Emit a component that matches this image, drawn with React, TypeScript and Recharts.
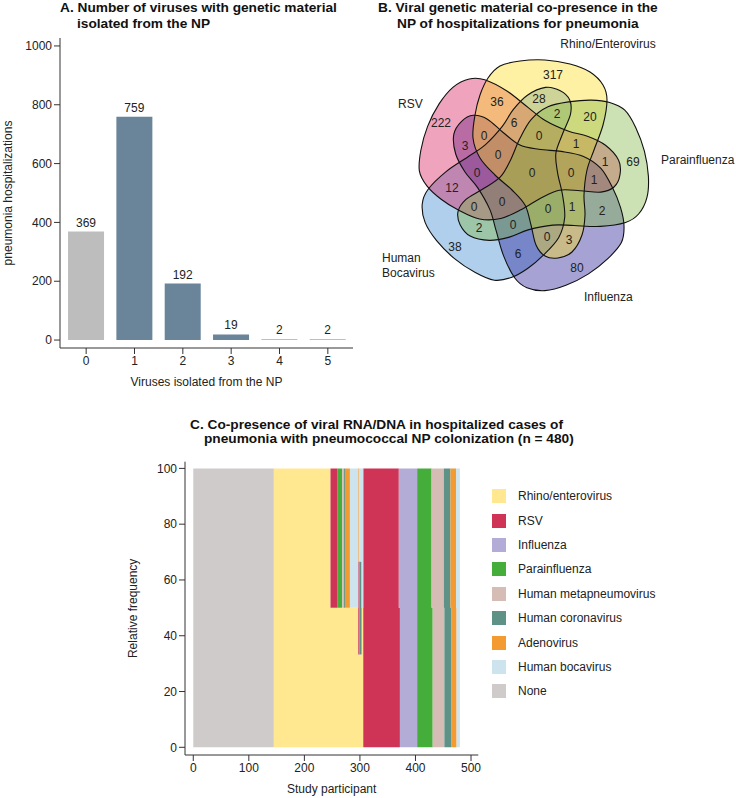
import React from "react";
import {
  BarChart,
  Bar,
  Cell,
  XAxis,
  YAxis,
  LabelList,
  Label,
  ScatterChart,
  Scatter,
  AreaChart,
  Area,
  Legend,
} from "recharts";

const FONT = '"Liberation Sans", Arial, Helvetica, sans-serif';
const INK = "#222";
const AXIS = "#333";

// ---- Panel A data
const VIRUS_COUNT = ["0", "1", "2", "3", "4", "5"];
const HOSPITALIZATIONS = [369, 759, 192, 19, 2, 2];

// ---- Panel B data (5-set venn), listed in drawing order
const VENN_SETS = ["Human Bocavirus", "Influenza", "RSV", "Rhino/Enterovirus", "Parainfluenza"];
const VENN_COLORS = ["#3787CF", "#201993", "#D7195A", "#FCDC19", "#82B643"];
// rotation of each set's outline around the centre (deg, clockwise)
const VENN_ROT = [216, 144, -72, 0, 72];
const VENN_COUNTS = [
  317, 36, 28, 2, 20, 222, 6, 0, 0, 1, 3, 0, 1, 69, 0, 0, 0, 1, 12, 0, 0, 0, 1, 2, 2, 0, 0, 3, 38, 6, 80,
];
// where each region count sits, relative to the venn centre (px)
const VENN_COUNT_POS = [
  [21, -99], [-35, -72], [7, -75], [25, -60], [58, -57], [-91, -51], [-18, -51], [-48, -38], [7, -38],
  [44, -30], [-67, -28], [-34, -19], [73, -12], [101, -12], [-55, -1], [0, -1], [39, -1], [62, 6],
  [-80, 14], [-58, 33], [-30, 28], [16, 35], [40, 33], [70, 37], [-53, 54], [-19, 51], [15, 63],
  [37, 66], [-77, 73], [-14, 80], [45, 94],
];
const VENN_NAME_POS = [
  [-150, 88, "start"],
  [52, 127, "start"],
  [-134, -66, "start"],
  [76, -126, "middle"],
  [129, -10, "start"],
];

// ---- Panel C data
const VIRUSES = [
  "Rhino/enterovirus",
  "RSV",
  "Influenza",
  "Parainfluenza",
  "Human metapneumovirus",
  "Human coronavirus",
  "Adenovirus",
  "Human bocavirus",
  "None",
];
const VIRUS_COLORS = [
  "#FFE890", "#CF3457", "#B3ACD6", "#45AE3A", "#D5BDB5", "#5E9287", "#F39A30", "#CDE4EE", "#CFCBCB",
];
const PARTICIPANT = [0, 145, 247, 259, 268, 271, 273, 282, 297, 299, 303, 306, 370, 372, 403, 429, 431, 451, 452, 463, 465, 473, 474, 480];
const RHINO = [0, 100, 50, 50, 50, 50, 50, 50, 33.3, 33.3, 50, 0, 0, 0, 0, 0, 0, 0, 0, 0, 0, 0, 0, 0];
const RSV = [0, 0, 50, 0, 0, 0, 0, 0, 33.3, 0, 0, 100, 50, 0, 0, 0, 0, 0, 0, 0, 0, 0, 0, 0];
const INFLUENZA = [0, 0, 0, 0, 0, 0, 0, 0, 0, 0, 0, 0, 50, 100, 0, 0, 0, 0, 0, 0, 0, 0, 0, 0];
const PARAINFLUENZA = [0, 0, 0, 50, 0, 0, 0, 0, 0, 0, 0, 0, 0, 0, 100, 50, 0, 0, 0, 0, 0, 0, 0, 0];
const METAPNEUMO = [0, 0, 0, 0, 50, 0, 0, 0, 0, 0, 0, 0, 0, 0, 0, 50, 100, 50, 0, 0, 0, 0, 0, 0];
const CORONA = [0, 0, 0, 0, 0, 50, 0, 0, 0, 33.3, 0, 0, 0, 0, 0, 0, 0, 50, 100, 50, 0, 0, 0, 0];
const ADENO = [0, 0, 0, 0, 0, 0, 50, 0, 33.4, 0, 0, 0, 0, 0, 0, 0, 0, 0, 0, 50, 100, 50, 0, 0];
const BOCA = [0, 0, 0, 0, 0, 0, 0, 50, 0, 33.4, 50, 0, 0, 0, 0, 0, 0, 0, 0, 0, 0, 50, 100, 100];
const NONE = [100, 0, 0, 0, 0, 0, 0, 0, 0, 0, 0, 0, 0, 0, 0, 0, 0, 0, 0, 0, 0, 0, 0, 0];
const SHARES = [RHINO, RSV, INFLUENZA, PARAINFLUENZA, METAPNEUMO, CORONA, ADENO, BOCA, NONE];

const barData = VIRUS_COUNT.map((k, i) => ({ k, n: HOSPITALIZATIONS[i] }));

const areaData = PARTICIPANT.map((x, i) => {
  const row: Record<string, number> = { x };
  VIRUSES.forEach((v, j) => (row[v] = SHARES[j][i]));
  return row;
});

const vennSetData = VENN_SETS.map((name, i) => ({ x: 0, y: 0, name, color: VENN_COLORS[i], rot: VENN_ROT[i] }));
const vennCountData = VENN_COUNTS.map((c, i) => ({ x: VENN_COUNT_POS[i][0], y: VENN_COUNT_POS[i][1], label: c }));
const vennNameData = VENN_SETS.map((name, i) => ({
  x: VENN_NAME_POS[i][0] as number,
  y: VENN_NAME_POS[i][1] as number,
  anchor: VENN_NAME_POS[i][2] as string,
  name,
}));

// outline of one venn set (the top one), px relative to the centre, y down
const SET_OUTLINE: [number, number][] = [
  [-44, -96], [-32, -108], [-12, -113], [13, -114], [38, -110], [58, -102], [71, -89], [75, -74],
  [71, -49], [62, -24], [55, -4], [52, 21], [53, 41], [50, 61], [40, 78], [26, 84], [13, 82],
  [4, 71], [-1, 51], [-7, 31], [-20, 16], [-37, 1], [-52, -16], [-59, -36], [-57, -59], [-52, -79],
];

function setPath(cx: number, cy: number, rot: number) {
  const a = (rot * Math.PI) / 180;
  const c = Math.cos(a);
  const s = Math.sin(a);
  const pts = SET_OUTLINE.map(([x, y]) => [cx + x * c - y * s, cy + x * s + y * c]);
  const n = pts.length;
  let d = `M${pts[0][0].toFixed(1)},${pts[0][1].toFixed(1)}`;
  for (let i = 0; i < n; i++) {
    const p0 = pts[(i - 1 + n) % n];
    const p1 = pts[i];
    const p2 = pts[(i + 1) % n];
    const p3 = pts[(i + 2) % n];
    const c1x = p1[0] + (p2[0] - p0[0]) / 6;
    const c1y = p1[1] + (p2[1] - p0[1]) / 6;
    const c2x = p2[0] - (p3[0] - p1[0]) / 6;
    const c2y = p2[1] - (p3[1] - p1[1]) / 6;
    d += `C${c1x.toFixed(1)},${c1y.toFixed(1)} ${c2x.toFixed(1)},${c2y.toFixed(1)} ${p2[0].toFixed(1)},${p2[1].toFixed(1)}`;
  }
  return d + "Z";
}

const SetFill = (p: any) => (
  <path d={setPath(p.cx, p.cy, p.payload.rot)} fill={p.payload.color} fillOpacity={0.4} stroke="none" />
);
const SetLine = (p: any) => (
  <path d={setPath(p.cx, p.cy, p.payload.rot)} fill="none" stroke="#111" strokeWidth={1.1} />
);
const CountText = (p: any) => (
  <text x={p.cx} y={p.cy} dy="0.35em" textAnchor="middle" fontSize={12} fill={INK}>
    {p.payload.label}
  </text>
);
const NameText = (p: any) => {
  const words = p.payload.name === "Human Bocavirus" ? ["Human", "Bocavirus"] : [p.payload.name];
  return (
    <text x={p.cx} y={p.cy} textAnchor={p.payload.anchor} fontSize={12} fill={INK}>
      {words.map((w: string, i: number) => (
        <tspan key={w} x={p.cx} dy={i === 0 ? 0 : 14.5}>
          {w}
        </tspan>
      ))}
    </text>
  );
};

const titleStyle: React.CSSProperties = {
  position: "absolute",
  fontWeight: "bold",
  fontSize: 13.7,
  color: "#111",
  whiteSpace: "nowrap",
  lineHeight: "16px",
};

const tick = { fontSize: 12, fill: INK };

const ColoniLegend = () => (
  <div>
    {VIRUSES.map((v, i) => (
      <div key={v} style={{ display: "flex", alignItems: "center", height: 24.4 }}>
        <span style={{ width: 14, height: 14, background: VIRUS_COLORS[i], display: "inline-block" }} />
        <span style={{ marginLeft: 12, fontSize: 12, color: INK }}>{v}</span>
      </div>
    ))}
  </div>
);

export default function App() {
  return (
    <div style={{ position: "absolute", left: 0, top: 0, width: 736, height: 798, fontFamily: FONT, background: "#fff" }}>
      {/* A */}
      <div style={{ ...titleStyle, left: 60, top: 0 }}>A. Number of viruses with genetic material</div>
      <div style={{ ...titleStyle, left: 77, top: 16 }}>isolated from the NP</div>
      <div style={{ position: "absolute", left: 0, top: 0 }}>
        <BarChart width={370} height={400} data={barData} margin={{ top: 38, right: 17, left: 0, bottom: 22 }} barCategoryGap="12.5%">
          <XAxis
            dataKey="k"
            padding={{ left: 2, right: 1 }}
            tick={tick}
            axisLine={{ stroke: AXIS }}
            tickLine={{ stroke: AXIS }}
          >
            <Label value="Viruses isolated from the NP" position="bottom" offset={-1} style={{ fontSize: 12, fill: INK }} />
          </XAxis>
          <YAxis
            type="number"
            domain={[-27, 1027]}
            ticks={[0, 200, 400, 600, 800, 1000]}
            width={60}
            tick={tick}
            axisLine={{ stroke: AXIS }}
            tickLine={{ stroke: AXIS }}
            allowDataOverflow
          >
            <Label
              value="pneumonia hospitalizations"
              angle={-90}
              position="insideLeft"
              offset={8}
              style={{ fontSize: 12, fill: INK, textAnchor: "middle" }}
            />
          </YAxis>
          <Bar dataKey="n" isAnimationActive={false}>
            {barData.map((d, i) => (
              <Cell key={d.k} fill={i === 0 ? "#BDBDBD" : "#6A8499"} />
            ))}
            <LabelList dataKey="n" position="top" style={{ fontSize: 12, fill: INK }} />
          </Bar>
        </BarChart>
      </div>

      {/* B */}
      <div style={{ ...titleStyle, left: 378, top: 0 }}>B. Viral genetic material co-presence in the</div>
      <div style={{ ...titleStyle, left: 397, top: 16 }}>NP of hospitalizations for pneumonia</div>
      <div style={{ position: "absolute", left: 370, top: 30 }}>
        <ScatterChart width={366} height={280} margin={{ top: 0, right: 0, bottom: 0, left: 0 }}>
          <XAxis type="number" dataKey="x" domain={[-162, 204]} hide allowDataOverflow />
          <YAxis type="number" dataKey="y" domain={[-144, 136]} reversed hide allowDataOverflow />
          <Scatter data={vennSetData} shape={SetFill} isAnimationActive={false} />
          <Scatter data={vennSetData} shape={SetLine} isAnimationActive={false} />
          <Scatter data={vennCountData} shape={CountText} isAnimationActive={false} />
          <Scatter data={vennNameData} shape={NameText} isAnimationActive={false} />
        </ScatterChart>
      </div>

      {/* C */}
      <div style={{ ...titleStyle, left: 190, top: 417 }}>C. Co-presence of viral RNA/DNA in hospitalized cases of</div>
      <div style={{ ...titleStyle, left: 204, top: 431 }}>pneumonia with pneumococcal NP colonization (n = 480)</div>
      <div style={{ position: "absolute", left: 0, top: 450 }}>
        <AreaChart width={736} height={348} data={areaData} margin={{ top: 11.7, right: 257.7, left: 125, bottom: 13 }}>
          <XAxis
            type="number"
            dataKey="x"
            domain={[-14.9, 513.1]}
            ticks={[0, 100, 200, 300, 400, 500]}
            allowDataOverflow
            tick={tick}
            axisLine={{ stroke: AXIS }}
            tickLine={{ stroke: AXIS }}
          >
            <Label value="Study participant" position="bottom" offset={-1} style={{ fontSize: 12, fill: INK }} />
          </XAxis>
          <YAxis
            type="number"
            domain={[-2.76, 102.4]}
            ticks={[0, 20, 40, 60, 80, 100]}
            width={60}
            allowDataOverflow
            tick={tick}
            axisLine={{ stroke: AXIS }}
            tickLine={{ stroke: AXIS }}
          >
            <Label
              value="Relative frequency"
              angle={-90}
              position="insideLeft"
              offset={8}
              style={{ fontSize: 12, fill: INK, textAnchor: "middle" }}
            />
          </YAxis>
          {VIRUSES.map((v, i) => (
            <Area
              key={v}
              type="stepAfter"
              dataKey={v}
              stackId="1"
              fill={VIRUS_COLORS[i]}
              fillOpacity={1}
              stroke="none"
              isAnimationActive={false}
            />
          ))}
          <Legend
            layout="vertical"
            align="center"
            verticalAlign="middle"
            content={() => <ColoniLegend />}
            wrapperStyle={{ left: 492, top: 34, width: 200 }}
          />
        </AreaChart>
      </div>
    </div>
  );
}
